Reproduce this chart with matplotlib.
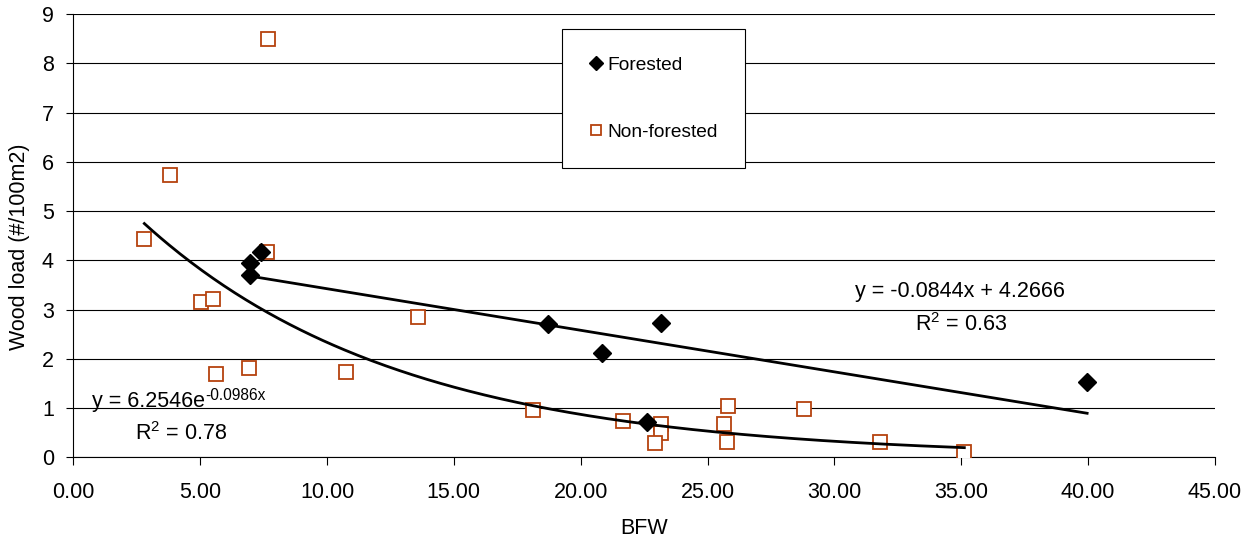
import numpy as np
import matplotlib
matplotlib.use("Agg")
import matplotlib.pyplot as plt

# Bankfull width (m) and wood load (pieces per 100 m2) for each reach type
forested_bfw = [6.97, 6.97, 7.39, 18.72, 20.82, 23.15, 22.61, 39.96]
forested_load = [3.95, 3.70, 4.16, 2.71, 2.11, 2.73, 0.72, 1.53]

nonforested_bfw = [7.66, 3.81, 2.80, 7.65, 5.02, 5.50, 13.60, 5.61, 6.94, 10.73,
                   18.11, 21.66, 23.17, 23.17, 22.93, 25.82, 25.63, 25.75, 28.80,
                   31.81, 35.12]
nonforested_load = [8.49, 5.73, 4.43, 4.17, 3.15, 3.21, 2.84, 1.69, 1.81, 1.73,
                    0.97, 0.73, 0.67, 0.50, 0.29, 1.05, 0.67, 0.32, 0.98,
                    0.32, 0.11]

# Fitted trend lines
lin_slope, lin_intercept, lin_r2 = -0.0844, 4.2666, 0.63
exp_coef, exp_rate, exp_r2 = 6.2546, -0.0986, 0.78

x_ticks = [0, 5, 10, 15, 20, 25, 30, 35, 40, 45]
y_ticks = [0, 1, 2, 3, 4, 5, 6, 7, 8, 9]

plt.rcParams["font.family"] = ["Liberation Sans", "DejaVu Sans"]
FS = 15.5
NF_COLOR = "#B5420E"

W, H = 1255, 541
fig = plt.figure(figsize=(W / 100, H / 100), dpi=100)
left, right, bottom, top = 73.3, 1215.0, 457.3, 14.0
ax = fig.add_axes([left / W, 1 - bottom / H, (right - left) / W, (bottom - top) / H])

ax.set_xlim(0, 45)
ax.set_ylim(0, 9)
ax.set_xticks(x_ticks)
ax.set_xticklabels([f"{v:.2f}" for v in x_ticks])
ax.set_yticks(y_ticks)
ax.set_yticklabels([str(v) for v in y_ticks])

ax.grid(axis="y", color="black", linewidth=0.8)
ax.set_axisbelow(True)
for side in ("top", "right"):
    ax.spines[side].set_visible(False)
for side in ("left", "bottom"):
    ax.spines[side].set_linewidth(0.8)
    ax.spines[side].set_color("black")
ax.tick_params(axis="x", direction="out", length=5.5, width=0.8, pad=12, labelsize=FS)
ax.tick_params(axis="y", direction="out", length=5, width=0.8, pad=9, labelsize=FS)

# Non-forested reaches
ax.plot(nonforested_bfw, nonforested_load, linestyle="none", marker="s",
        markersize=9.5, markerfacecolor="white", markeredgecolor=NF_COLOR,
        markeredgewidth=1.3, label="Non-forested", zorder=3)

# Exponential fit over the non-forested range
xe = np.linspace(min(nonforested_bfw), max(nonforested_bfw), 300)
ax.plot(xe, exp_coef * np.exp(exp_rate * xe), color="black", linewidth=2.0, zorder=4)

# Linear fit over the forested range
xl = np.array([min(forested_bfw), max(forested_bfw)])
ax.plot(xl, lin_slope * xl + lin_intercept, color="black", linewidth=2.0, zorder=4)

# Forested reaches
ax.plot(forested_bfw, forested_load, linestyle="none", marker="D",
        markersize=9.5, color="black", label="Forested", zorder=5)

# Trend line equations
ax.text(34.95, 3.36, f"y = {lin_slope:.4f}x + {lin_intercept:.4f}",
        ha="center", va="center", fontsize=FS)
ax.text(35.0, 2.69, r"R$\mathregular{^2}$" + f" = {lin_r2:.2f}",
        ha="center", va="center", fontsize=FS)
exp_base = ax.text(0.73, 1.13, f"y = {exp_coef:.4f}e",
                   ha="left", va="center", fontsize=FS)
ax.annotate(f"{exp_rate:.4f}x", xy=(1.0, 1.0), xycoords=exp_base,
            xytext=(0, 2), textcoords="offset points",
            ha="left", va="top", fontsize=FS * 0.72)
ax.text(2.43, 0.49, r"R$\mathregular{^2}$" + f" = {exp_r2:.2f}",
        ha="left", va="center", fontsize=FS)

ax.set_xlabel("BFW", fontsize=FS)
ax.xaxis.set_label_coords(0.5, -(529 - bottom) / (bottom - top))
ax.xaxis.label.set_va("center")
ax.set_ylabel("Wood load (#/100m2)", fontsize=FS)
ax.yaxis.set_label_coords(-(left - 19) / (right - left), (bottom - 247) / (bottom - top))
ax.yaxis.label.set_va("center")

handles, labels = ax.get_legend_handles_labels()
leg = ax.legend(handles[::-1], labels[::-1], loc="upper left",
                bbox_to_anchor=(561.7 / W, 1 - 29.3 / H), bbox_transform=fig.transFigure,
                borderaxespad=0, fontsize=13.8, markerscale=0.7, frameon=True,
                fancybox=False, shadow=False, framealpha=1, edgecolor="black",
                borderpad=1.4, labelspacing=2.6, handlelength=0.75, handletextpad=0.25)
leg.get_frame().set_linewidth(0.8)

fig.savefig("out.png", dpi=100)
